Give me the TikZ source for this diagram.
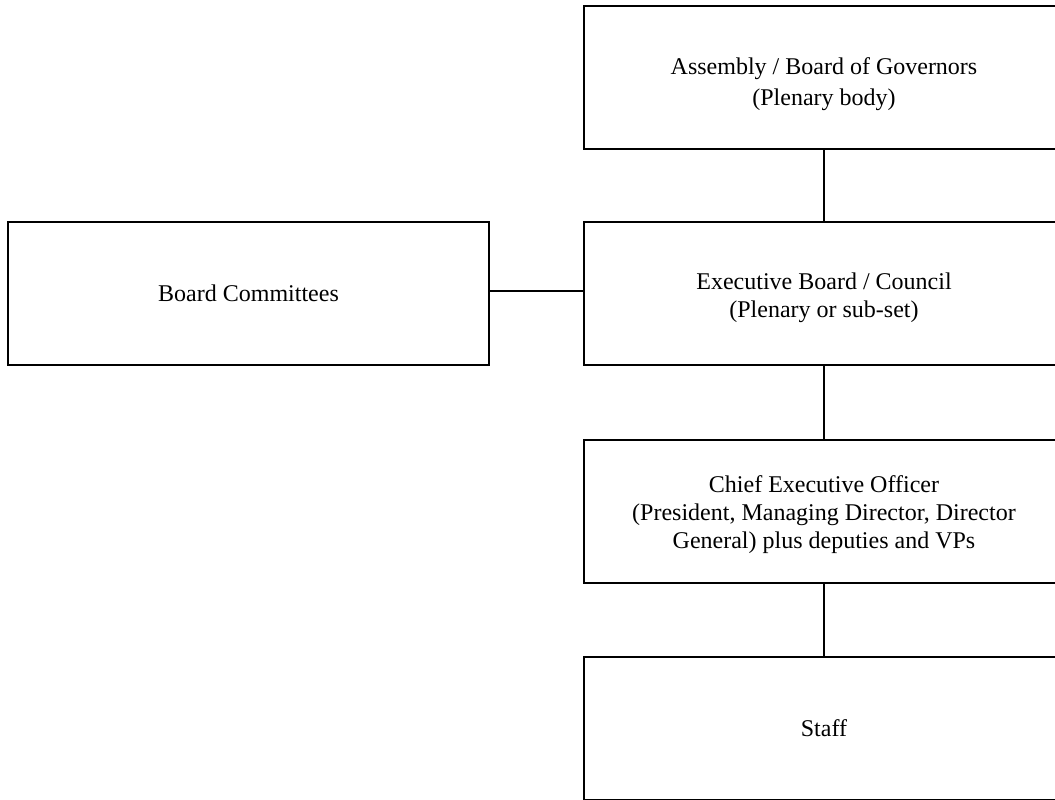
\documentclass[tikz,border=0pt]{standalone}
\usepackage{fontspec}
\setmainfont{Liberation Serif}
% push the first line down inside its box
\newcommand\textdrop[1]{\rule{0pt}{\dimexpr16.5pt+#1pt*2\relax}}
\begin{document}
\begin{tikzpicture}[x=1pt,y=-1pt,
	box/.style={draw,line width=1.3pt,minimum width=480pt,minimum height=143pt,
		inner sep=0pt,align=center,font=\fontsize{24}{28}\selectfont},
	link/.style={line width=1.3pt}]
\useasboundingbox (0,0) rectangle (1055,800);
\clip (0,0) rectangle (1055,800);

\node[box] (assembly) at (824,77.5) {\textdrop{7}Assembly / Board of Governors\\[3pt](Plenary body)};
\node[box] (exec) at (824,293.5) {\textdrop{4.5}Executive Board / Council\\(Plenary or sub-set)};
\node[box,minimum width=481pt] (committees) at (248.5,293.5) {Board Committees};
\node[box] (ceo) at (824,511.5) {\textdrop{3.5}Chief Executive Officer\\(President, Managing Director, Director\\General) plus deputies and VPs};
\node[box] (staff) at (824,728.5) {Staff};

\draw[link] (assembly) -- (exec);
\draw[link] ([yshift=2.5pt]committees.east) -- ([yshift=2.5pt]exec.west);
\draw[link] (exec) -- (ceo);
\draw[link] (ceo) -- (staff);
\end{tikzpicture}
\end{document}
